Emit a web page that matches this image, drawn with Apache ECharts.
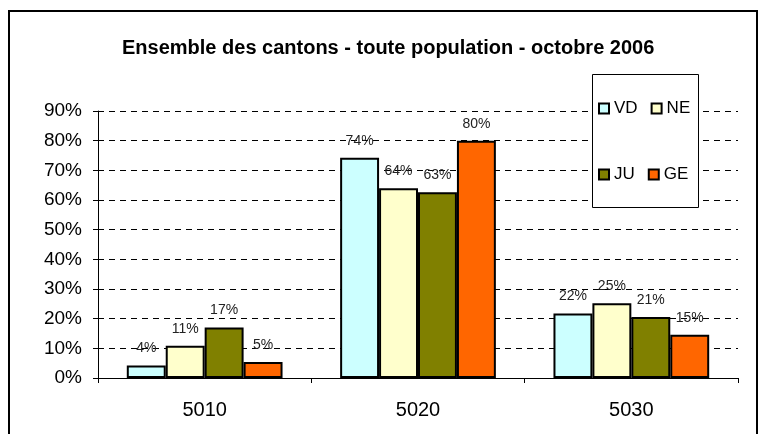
<!DOCTYPE html>
<html>
<head>
<meta charset="utf-8">
<script src="https://cdn.jsdelivr.net/npm/echarts@6/dist/echarts.min.js"></script>
<style>html,body{margin:0;padding:0;background:#fff}#c{width:763px;height:434px}</style>
</head>
<body>
<div id="c"></div>
<script>
const categories = ['5010', '5020', '5030'];
const seriesNames = ['VD', 'NE', 'JU', 'GE'];
const VD = [4.2, 74.2, 21.7];
const NE = [10.9, 64.0, 25.2];
const JU = [17.0, 62.6, 20.6];
const GE = [5.4, 80.0, 14.6];
const yTicks = [0, 10, 20, 30, 40, 50, 60, 70, 80, 90];
const colors = ['#CCFFFF', '#FFFFCC', '#808000', '#FF6600'];
const FONT = 'Liberation Sans, Arial, sans-serif';

const values = [VD, NE, JU, GE];
const chart = echarts.init(document.getElementById('c'), null, {renderer: 'canvas'});
const legendCommon = {
  orient: 'horizontal', padding: 0, itemGap: 13, itemWidth: 10, itemHeight: 10,
  icon: 'rect', z: 10,
  textStyle: {fontFamily: FONT, fontSize: 17, color: '#000'}
};
chart.setOption({
  backgroundColor: '#fff',
  animation: false,
  title: {
    text: 'Ensemble des cantons - toute population - octobre 2006',
    left: 122, top: 38, padding: 0,
    textStyle: {fontFamily: FONT, fontSize: 20, fontWeight: 'bold', color: '#000'}
  },
  graphic: [
    {type: 'rect', z: 1, shape: {x: 9, y: 11, width: 748, height: 440},
     style: {fill: 'none', stroke: '#000', lineWidth: 2}, silent: true},
    {type: 'rect', z: 3, shape: {x: 592.5, y: 74.5, width: 106, height: 133},
     style: {fill: '#fff', stroke: '#000', lineWidth: 1}, silent: true}
  ],
  legend: [
    Object.assign({data: ['VD', 'NE'], left: 598, top: 100}, legendCommon),
    Object.assign({data: ['JU', 'GE'], left: 598, top: 166}, legendCommon)
  ],
  grid: {left: 98, right: 25, top: 111, bottom: 56, containLabel: false, outerBoundsMode: 'none'},
  xAxis: {
    type: 'category', data: categories,
    axisLine: {show: true, lineStyle: {color: '#000', width: 1}},
    axisTick: {show: true, alignWithLabel: false, length: 5, lineStyle: {color: '#000'}},
    axisLabel: {fontFamily: FONT, fontSize: 20, color: '#000', margin: 22},
    splitLine: {show: false}
  },
  yAxis: {
    type: 'value', min: yTicks[0], max: yTicks[yTicks.length - 1], interval: 10,
    axisLine: {show: true, lineStyle: {color: '#000', width: 1}},
    axisTick: {show: true, inside: false, length: 5, lineStyle: {color: '#000'}},
    axisLabel: {fontFamily: FONT, fontSize: 19, color: '#000', margin: 16, formatter: '{value}%'},
    splitLine: {show: true, lineStyle: {color: '#000', width: 1, type: [6, 5]}}
  },
  series: seriesNames.map((n, i) => ({
    name: n, type: 'bar', data: values[i],
    barGap: '0%', barCategoryGap: '27%',
    itemStyle: {color: colors[i], borderColor: '#000', borderWidth: 2},
    label: {show: true, position: 'top', distance: 10,
      fontFamily: FONT, fontSize: 14, color: '#222',
      formatter: p => Math.round(p.value) + '%'}
  }))
});
</script>
</body>
</html>
